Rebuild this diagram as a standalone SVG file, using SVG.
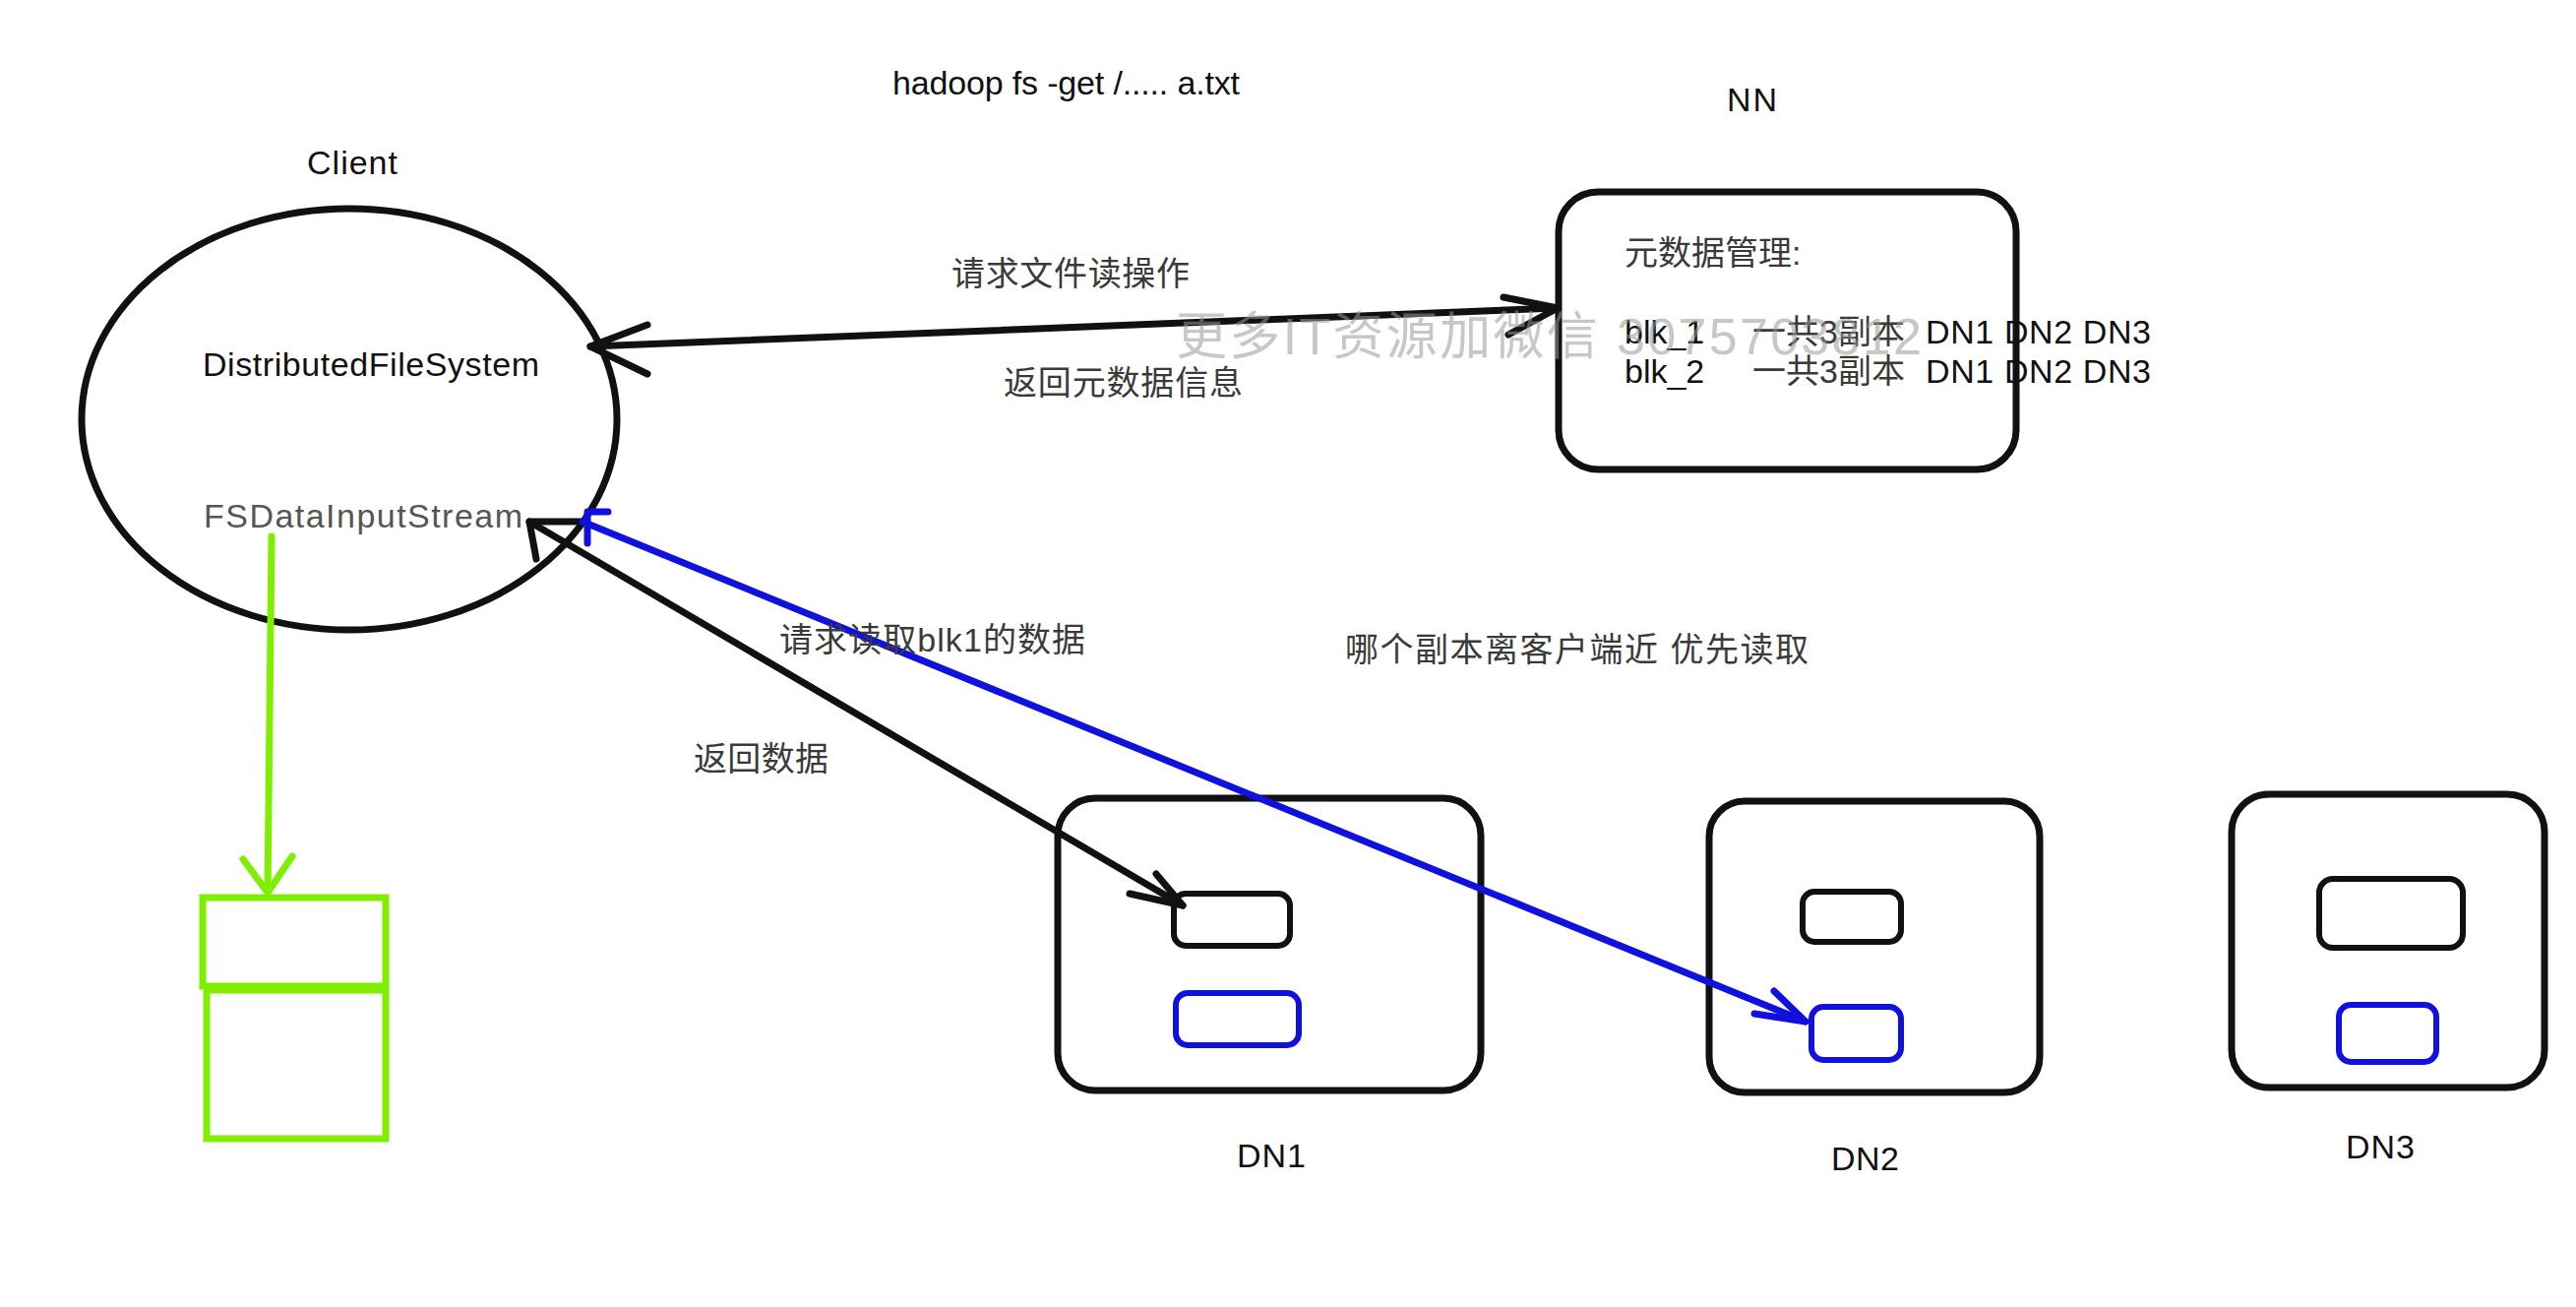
<svg xmlns="http://www.w3.org/2000/svg" width="2618" height="1328" viewBox="0 0 2618 1328">
<style>
text{font-family:"Liberation Sans","Noto Sans CJK SC",sans-serif;font-size:34px;}
.en{fill:#111;}
.cn{fill:#3a3a3a;}
.gr{fill:#555;}
.box{fill:none;stroke:#111;stroke-width:7;}
.ibox{fill:none;stroke:#111;stroke-width:6;}
.bbox{fill:none;stroke:#1111dd;stroke-width:6;}
.gbox{fill:none;stroke:#7fee00;stroke-width:7;}
.blk{fill:none;stroke:#111;stroke-width:7;stroke-linecap:round;stroke-linejoin:round;}
.blu{fill:none;stroke:#1111dd;stroke-width:7;stroke-linecap:round;stroke-linejoin:round;}
.grn{fill:none;stroke:#7fee00;stroke-width:7;stroke-linecap:round;stroke-linejoin:round;}
.wm{font-size:52px;fill:#999;fill-opacity:0.55;}
</style>
<rect width="2618" height="1328" fill="#ffffff"/>

<text id="cmd" class="en" x="907" y="96" textLength="353">hadoop fs -get /..... a.txt</text>

<g id="client">
<text class="en" x="312" y="177" textLength="92">Client</text>
<ellipse cx="355" cy="426" rx="272" ry="214" fill="none" stroke="#111" stroke-width="7"/>
<text class="en" x="206" y="382" textLength="342">DistributedFileSystem</text>
<text class="gr" x="207" y="536" textLength="324">FSDataInputStream</text>
</g>

<g id="nn">
<text class="en" x="1755" y="113" textLength="51">NN</text>
<rect class="box" x="1584" y="195" width="465" height="282" rx="40"/>
<text class="cn" x="1651" y="269">元数据管理:</text>
<text class="en" x="1651" y="349">blk_1</text>
<text class="cn" x="1781" y="349">一共3副本</text>
<text class="en" x="1957" y="349" textLength="229">DN1 DN2 DN3</text>
<text class="en" x="1651" y="389">blk_2</text>
<text class="cn" x="1781" y="389">一共3副本</text>
<text class="en" x="1957" y="389" textLength="229">DN1 DN2 DN3</text>
</g>

<g id="buffer">
<rect class="gbox" x="206" y="912" width="186" height="90"/>
<rect class="gbox" x="210" y="1006" width="182" height="151"/>
</g>

<g id="dn1">
<rect class="box" x="1075" y="811" width="430" height="297" rx="38"/>
<rect class="ibox" x="1193" y="908" width="118" height="53" rx="12"/>
<rect class="bbox" x="1195" y="1009" width="125" height="53" rx="12"/>
<text class="en" x="1257" y="1186" textLength="70">DN1</text>
</g>

<g id="dn2">
<rect class="box" x="1737" y="814" width="336" height="296" rx="36"/>
<rect class="ibox" x="1832" y="906" width="100" height="51" rx="12"/>
<rect class="bbox" x="1841" y="1023" width="91" height="54" rx="12"/>
<text class="en" x="1861" y="1189" textLength="69">DN2</text>
</g>

<g id="dn3">
<rect class="box" x="2268" y="807" width="318" height="298" rx="38"/>
<rect class="ibox" x="2357" y="893" width="146" height="70" rx="14"/>
<rect class="bbox" x="2377" y="1021" width="99" height="58" rx="12"/>
<text class="en" x="2384" y="1177" textLength="70">DN3</text>
</g>

<g id="connectors">
<path class="blk" d="M600 352 L1583 313"/>
<path class="blk" d="M658 330 L600 352 L658 380"/>
<path class="blk" d="M1528 302 L1583 313 L1533 340"/>
<path class="blk" d="M538 530 L1202 920"/>
<path class="blk" d="M590 530 L538 530 L545 568"/>
<path class="blk" d="M1175 888 L1202 920 L1148 908"/>
<path class="blu" d="M592 530 L1835 1038"/>
<path class="blu" d="M618 520 L597 520 L597 552"/>
<path class="blu" d="M1803 1007 L1835 1038 L1783 1030"/>
<path class="grn" d="M276 545 L272 907"/>
<path class="grn" d="M247 873 L272 907 L297 870"/>
</g>

<g id="edge-labels">
<text class="cn" x="967" y="290" textLength="242">请求文件读操作</text>
<text class="cn" x="1020" y="401" textLength="243">返回元数据信息</text>
<text class="cn" x="792" y="662" textLength="311">请求读取blk1的数据</text>
<text class="cn" x="705" y="783" textLength="137">返回数据</text>
<text class="cn" x="1367" y="672" textLength="471">哪个副本离客户端近 优先读取</text>
</g>

<text class="wm" x="1195" y="360" textLength="758">更多IT资源加微信 3075703812</text>
</svg>
